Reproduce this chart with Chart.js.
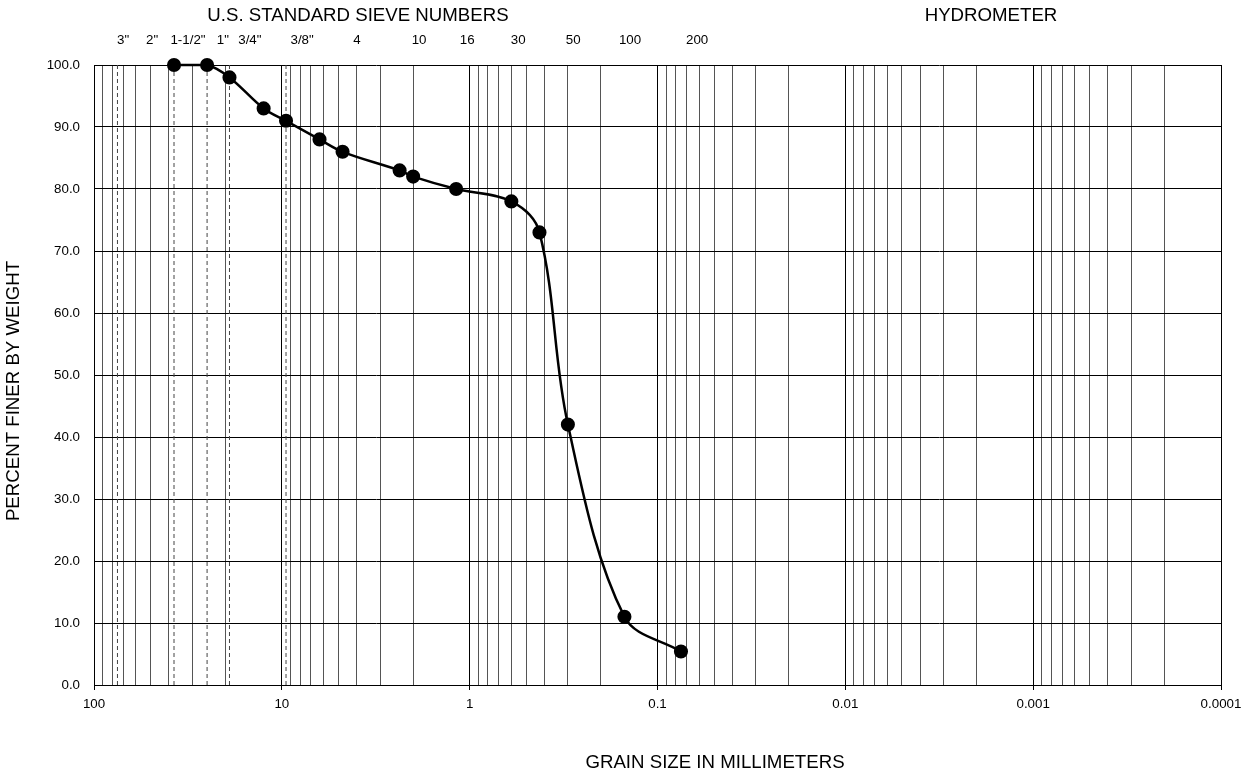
<!DOCTYPE html>
<html>
<head>
<meta charset="utf-8">
<title>Grain size distribution</title>
<script src="https://cdn.jsdelivr.net/npm/chart.js@4.4.1/dist/chart.umd.min.js"></script>
<style>
  html, body { margin: 0; padding: 0; background: #fff; }
  #wrap { width: 1252px; height: 775px; position: relative; }
</style>
</head>
<body>
<div id="wrap"><canvas id="grainChart"></canvas></div>
<script>
// sieve results (mm / % passing)
const grainSizeMm = [37.5, 25, 19, 12.5, 9.5, 6.3, 4.75, 2.36, 2.0, 1.18, 0.6, 0.425, 0.3, 0.15, 0.075];
const percentFiner = [100, 100, 98, 93, 91, 88, 86, 83, 82, 80, 78, 73, 42, 11, 5.4];

// dashed reference lines at these sieve openings
const dashedSieveMm = [75, 37.5, 25, 19, 9.5];

// top axis: sieve names and where they sit (mm)
const sieveLabels = ['3"', '2"', '1-1/2"', '1"', '3/4"', '3/8"', '4', '10', '16', '30', '50', '100', '200'];
const sieveLabelMm = [70, 49, 31.6, 20.6, 14.8, 7.8, 3.98, 1.86, 1.03, 0.552, 0.281, 0.14, 0.0615];

// bottom axis decades
const xMajorTicks = [100, 10, 1, 0.1, 0.01, 0.001, 0.0001];
const xTickLabels = ['100', '10', '1', '0.1', '0.01', '0.001', '0.0001'];

const FONT = '"Liberation Sans", Arial, sans-serif';
const TICK_SIZE = 13.33;
const TITLE_SIZE = 18.67;

// every 1..9 x 10^k line between the decades
const xGridValues = [];
xMajorTicks.forEach(d => {
  for (let m = 1; m <= 9; m++) {
    const v = d * m;
    if (v <= 100) xGridValues.push(v);
  }
});

function majorIndex(v) {
  return xMajorTicks.findIndex(m => Math.abs(Math.log10(v) - Math.log10(m)) < 1e-6);
}

// text boxes: sieve / hydrometer headers and the two axis titles
const titlesPlugin = {
  id: 'titles',
  afterDraw(chart) {
    const ctx = chart.ctx;
    ctx.save();
    ctx.fillStyle = '#000';
    ctx.font = TITLE_SIZE + 'px ' + FONT;
    ctx.textAlign = 'center';
    ctx.textBaseline = 'middle';
    ctx.fillText('U.S. STANDARD SIEVE NUMBERS', 358, 16);
    ctx.fillText('HYDROMETER', 991, 16);
    ctx.fillText('GRAIN SIZE IN MILLIMETERS', 715, 763);
    ctx.translate(14, 391);
    ctx.rotate(-Math.PI / 2);
    ctx.fillText('PERCENT FINER BY WEIGHT', 0, 0);
    ctx.restore();
  }
};

const datasets = [{
  label: 'Percent finer',
  data: grainSizeMm.map((d, i) => ({ x: d, y: percentFiner[i] })),
  borderColor: '#000',
  backgroundColor: '#000',
  borderWidth: 2.5,
  pointRadius: 5.8,
  pointBackgroundColor: '#000',
  pointBorderColor: '#000',
  tension: 0.35,
  clip: false
}];

dashedSieveMm.forEach(d => {
  datasets.push({
    label: 'sieve ' + d,
    data: [{ x: d, y: 0 }, { x: d, y: 100 }],
    borderColor: '#444',
    borderWidth: 1,
    borderDash: [4, 3],
    pointRadius: 0,
    tension: 0
  });
});

new Chart(document.getElementById('grainChart'), {
  type: 'line',
  data: { datasets: datasets },
  plugins: [titlesPlugin],
  options: {
    responsive: true,
    maintainAspectRatio: false,
    animation: false,
    layout: { padding: { top: 20, right: 31, bottom: 0, left: 0 } },
    plugins: {
      legend: { display: false },
      tooltip: { enabled: false }
    },
    scales: {
      x: {
        type: 'logarithmic',
        position: 'bottom',
        reverse: true,
        min: 0.0001,
        max: 100,
        afterBuildTicks: s => { s.ticks = xGridValues.map(v => ({ value: v })); },
        afterFit: s => { s.height = 90; },
        grid: {
          color: c => (c.tick && majorIndex(c.tick.value) >= 0) ? '#000' : '#555',
          tickColor: c => (c.tick && majorIndex(c.tick.value) >= 0) ? '#000' : 'rgba(0,0,0,0)',
          tickLength: 5,
          lineWidth: 1
        },
        border: { color: '#000', width: 1 },
        ticks: {
          autoSkip: false,
          maxRotation: 0,
          padding: 6,
          color: '#000',
          font: { family: FONT, size: TICK_SIZE },
          callback: v => {
            const i = majorIndex(v);
            return i >= 0 ? xTickLabels[i] : '';
          }
        }
      },
      xTop: {
        type: 'logarithmic',
        position: 'top',
        reverse: true,
        min: 0.0001,
        max: 100,
        afterBuildTicks: s => { s.ticks = sieveLabelMm.map(v => ({ value: v })); },
        afterFit: s => { s.height = 45; },
        grid: { display: false, drawTicks: false },
        border: { display: false },
        ticks: {
          autoSkip: false,
          maxRotation: 0,
          padding: 17,
          color: '#000',
          font: { family: FONT, size: TICK_SIZE },
          callback: (v, i) => sieveLabels[i]
        }
      },
      y: {
        min: 0,
        max: 100,
        afterFit: s => { s.width = 94; },
        grid: { color: '#000', lineWidth: 1, drawTicks: false },
        border: { color: '#000', width: 1 },
        ticks: {
          stepSize: 10,
          padding: 14,
          color: '#000',
          font: { family: FONT, size: TICK_SIZE },
          callback: v => Number(v).toFixed(1)
        }
      }
    }
  }
});
</script>
</body>
</html>
